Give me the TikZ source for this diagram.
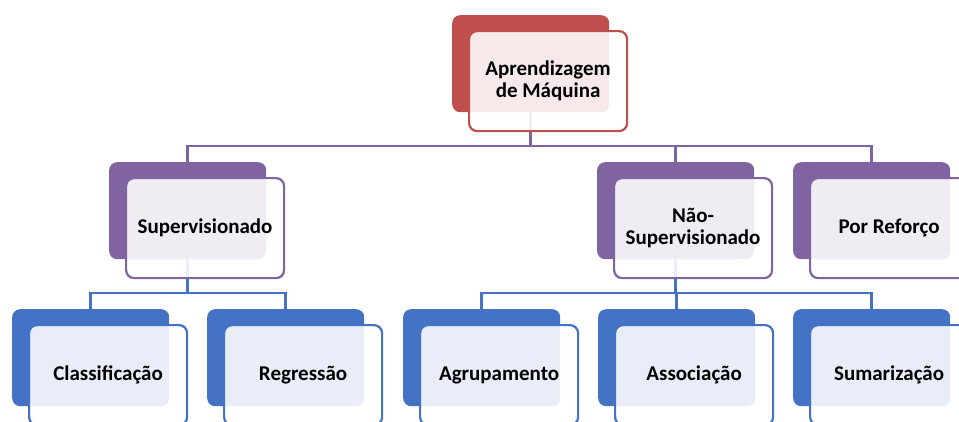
\documentclass[tikz,border=0pt]{standalone}
\usepackage{fontspec}
\setmainfont{Carlito}
\usetikzlibrary{positioning}
\definecolor{mlred}{HTML}{C0504D}
\definecolor{mlpurple}{HTML}{8064A2}
\definecolor{mlblue}{HTML}{4472C4}
\tikzset{
  backbox/.style={rectangle, rounded corners=8pt, fill=#1, minimum width=157pt, minimum height=97pt, inner sep=0pt, anchor=north west},
  frontbox/.style={rectangle, rounded corners=8pt, draw=#1, line width=2.2pt, fill=white, fill opacity=0.88, text opacity=1, minimum width=158pt, minimum height=100pt, inner sep=0pt, align=center, font=\fontsize{21}{22}\selectfont\bfseries, anchor=north west},
  link/.style={draw=#1, line width=2.8pt}
}

\begin{document}
\begin{tikzpicture}[x=1pt, y=-1pt]
  \useasboundingbox (0,0) rectangle (959,421);
  \coordinate (busA) at (0,146);
  \coordinate (busB) at (0,293);

  % back boxes
  \node[backbox=mlred] (mlb) at (452,15) {};
  \node[backbox=mlpurple] (supb) at (109,162) {};
  \node[backbox=mlpurple] (naob) at (597,162) {};
  \node[backbox=mlpurple] (refb) at (793,162) {};
  \node[backbox=mlblue] (clab) at (12,309) {};
  \node[backbox=mlblue] (regb) at (207,309) {};
  \node[backbox=mlblue] (agrb) at (403,309) {};
  \node[backbox=mlblue] (assb) at (598,309) {};
  \node[backbox=mlblue] (sumb) at (793,309) {};

  % connectors
  \draw[link=mlpurple] (mlb.south) -- (mlb.south |- busA) -| (supb.north);
  \draw[link=mlpurple] (mlb.south) -- (mlb.south |- busA) -| (naob.north);
  \draw[link=mlpurple] (mlb.south) -- (mlb.south |- busA) -| (refb.north);
  \draw[link=mlblue] (supb.south) -- (supb.south |- busB) -| (clab.north);
  \draw[link=mlblue] (supb.south) -- (supb.south |- busB) -| (regb.north);
  \draw[link=mlblue] (naob.south) -- (naob.south |- busB) -| (agrb.north);
  \draw[link=mlblue] (naob.south) -- (naob.south |- busB) -| (assb.north);
  \draw[link=mlblue] (naob.south) -- (naob.south |- busB) -| (sumb.north);

  % front boxes
  \node[frontbox=mlred] (ml) at (468,30) {Aprendizagem\\de Máquina};
  \node[frontbox=mlpurple] (sup) at (125,177) {Supervisionado};
  \node[frontbox=mlpurple] (nao) at (613,177) {Não-\\Supervisionado};
  \node[frontbox=mlpurple] (ref) at (809,177) {Por Reforço};
  \node[frontbox=mlblue] (cla) at (28,324) {Classificação};
  \node[frontbox=mlblue] (reg) at (223,324) {Regressão};
  \node[frontbox=mlblue] (agr) at (419,324) {Agrupamento};
  \node[frontbox=mlblue] (ass) at (614,324) {Associação};
  \node[frontbox=mlblue] (sum) at (809,324) {Sumarização};
\end{tikzpicture}
\end{document}
